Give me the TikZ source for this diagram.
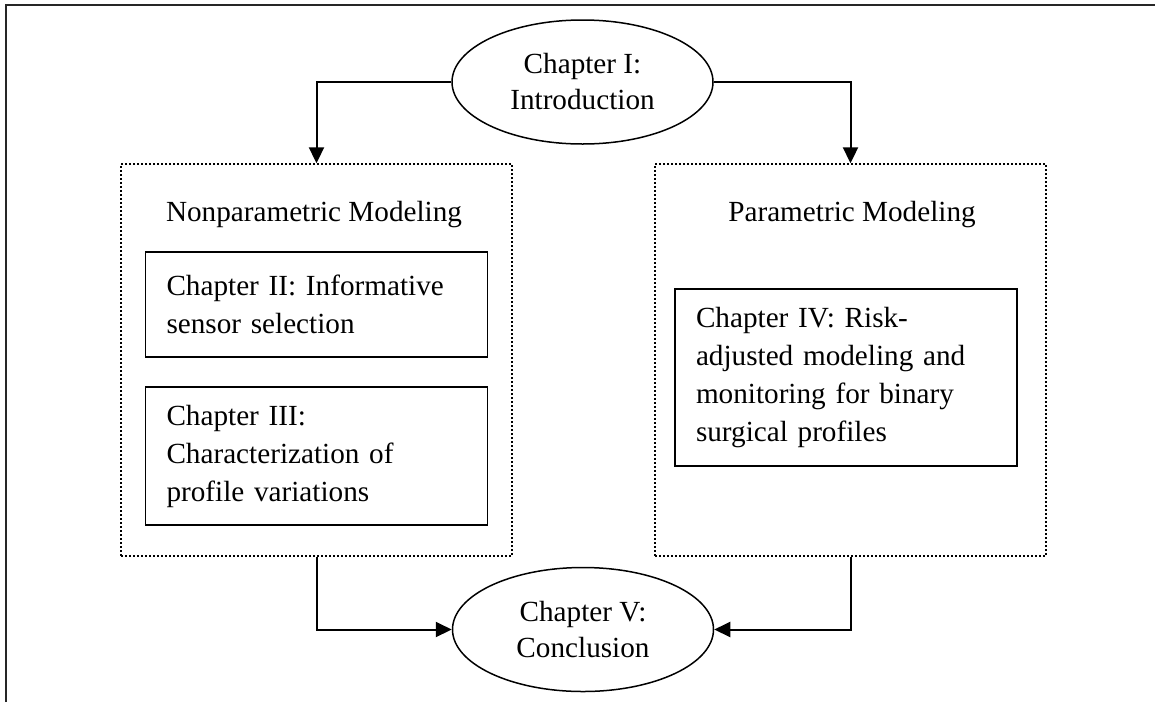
\documentclass[tikz,border=0pt]{standalone}
\usepackage{fontspec}
\setmainfont{Liberation Serif}
\usetikzlibrary{shapes.geometric,arrows.meta}
\frenchspacing
\begin{document}
\begin{tikzpicture}[x=0.5pt,y=-0.5pt]
 \tikzset{
  chp/.style={ellipse, draw, line width=0.75pt, minimum width=130.5pt, minimum height=62pt, inner sep=0pt, align=center, font=\fontsize{14.6}{18}\selectfont},
  sec/.style={rectangle, draw, line width=0.75pt, text width=150pt, inner xsep=10.5pt, inner ysep=0pt, align=left, font=\fontsize{14.6}{19}\selectfont},
  grp/.style={rectangle, draw, line width=0.7pt, dash pattern=on 0.8pt off 1.2pt, minimum width=195.5pt, minimum height=196pt, inner sep=0pt},
  ttl/.style={font=\fontsize{14.6}{19}\selectfont},
  con/.style={-{Triangle[length=8pt,width=7.5pt]}, line width=1pt}
 }
 \useasboundingbox (0,0) rectangle (1155,702);
 \draw [line width=1pt, black!85] (6,702) -- (6,5) -- (1155,5);

 % groups
 \node [grp] (npm) at (316.5,360) {};
 \node [grp] (pm) at (850.5,360) {};
 \node [ttl] (npmt) at (314,215) {Nonparametric Modeling};
 \node [ttl] (pmt) at (852,215) {Parametric Modeling};

 % chapters
 \node [chp] (intro) at (582.5,82) {Chapter I:\\Introduction};
 \node [sec, minimum height=52.5pt] (ch2) at (316.5,304.5) {Chapter II: Informative\\sensor selection};
 \node [sec, minimum height=69pt] (ch3) at (316.5,456) {Chapter III:\\Characterization of\\profile variations};
 \node [sec, minimum height=88.5pt] (ch4) at (846,377.5) {Chapter IV: Risk-\\adjusted modeling and\\monitoring for binary\\surgical profiles};
 \node [chp] (concl) at (583,629.5) {Chapter V:\\Conclusion};

 \draw [con] (intro.west) -| (npm.north);
 \draw [con] (intro.east) -| (pm.north);
 \draw [con] (npm.south) |- (concl.west);
 \draw [con] (pm.south) |- (concl.east);
\end{tikzpicture}
\end{document}
